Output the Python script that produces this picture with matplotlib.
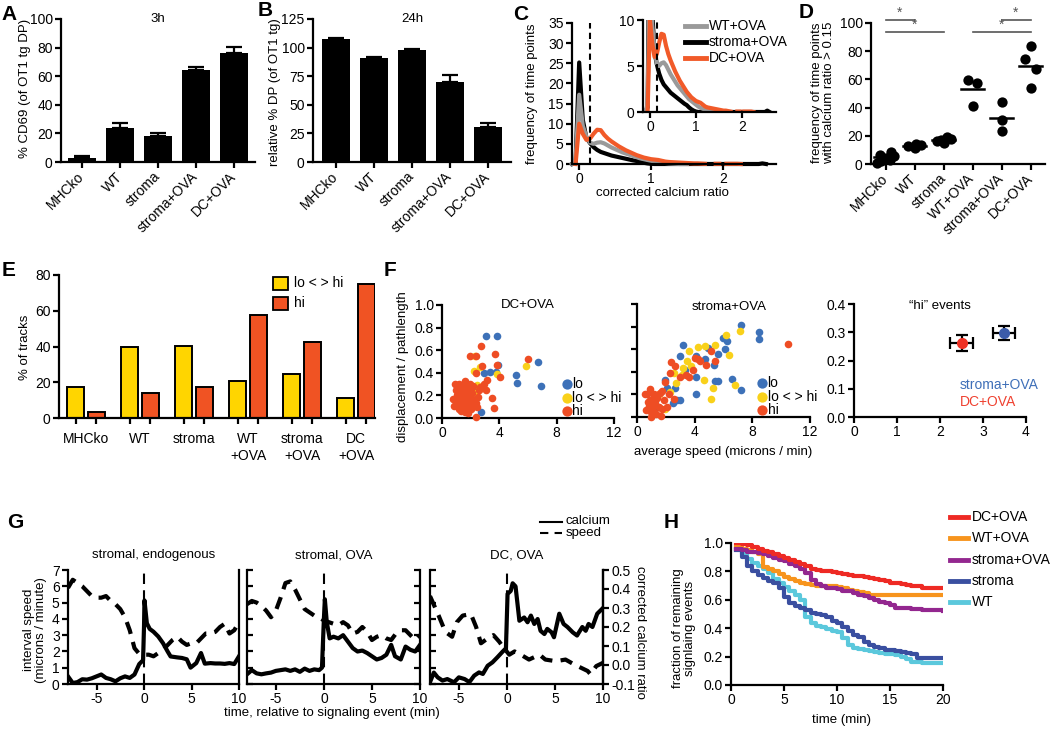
import numpy as np
import matplotlib
matplotlib.use('Agg')
import matplotlib.pyplot as plt
from matplotlib.patches import Rectangle
from matplotlib.lines import Line2D

plt.rcParams['font.family'] = ['Liberation Sans', 'DejaVu Sans']
plt.rcParams['font.size'] = 9.5
plt.rcParams['axes.unicode_minus'] = False
plt.rcParams['axes.linewidth'] = 1.6
for _a in ('xtick', 'ytick'):
    plt.rcParams[_a + '.major.width'] = 1.6
    plt.rcParams[_a + '.major.size'] = 4
    plt.rcParams[_a + '.labelsize'] = 10
    plt.rcParams[_a + '.major.pad'] = 2

# ======================= DATA =======================
# A
a_cats = ['MHCko', 'WT', 'stroma', 'stroma+OVA', 'DC+OVA']
a_vals = [3, 24, 18, 64, 76]
a_err = [1, 3.5, 2.5, 2.3, 4.3]
# B
b_cats = ['MHCko', 'WT', 'stroma', 'stroma+OVA', 'DC+OVA']
b_vals = [107.5, 90.5, 98, 70, 30.5]
b_err = [1, 1, 0.8, 6, 4]
# C  histogram of corrected calcium ratio
c_x = np.round(np.arange(-0.10, 2.601, 0.05), 2)
nan = np.nan
c_stroma_ova = [0.0, 0.5, 25.2, 11.0, 6.5,
                5.2, 4.2, 3.5, 3.0, 2.7,
                2.4, 2.1, 1.9, 1.7, 1.5,
                1.3, 1.1, 0.9, 0.75, 0.5,
                0.3, 0.15, 0.05, 0.0, 0.0,
                0, 0, 0, 0, 0,
                0, 0, 0, 0, 0,
                0, 0, 0, 0, 0,
                0, 0, 0, 0, 0,
                0, 0, 0, 0, 0,
                0, 0, 0, 0.15, 0]
c_wt_ova = [0.0, 0.8, 17.2, 9.5, 6.8,
            5.3, 5.0, 5.3, 5.4, 5.1,
            4.6, 4.1, 3.7, 3.3, 2.9,
            2.6, 2.3, 2.0, 1.7, 1.4,
            1.2, 1.0, 0.8, 0.6, 0.45,
            0.35, 0.25, 0.15, 0.1, 0.05,
            0.0, 0.0, 0.0, nan, nan,
            nan, nan, nan, nan, nan,
            nan, nan, nan, nan, nan,
            nan, nan, nan, nan, nan,
            nan, nan, nan, nan, nan]
c_dc_ova = [nan, 0.0, 10.0, 7.5, 6.0,
            6.3, 7.5, 8.5, 8.4, 7.2,
            6.3, 5.6, 5.0, 4.4, 3.9,
            3.4, 3.0, 2.6, 2.2, 1.9,
            1.6, 1.4, 1.2, 1.1, 1.0,
            0.8, 0.6, 0.5, 0.45, 0.4,
            0.35, 0.3, 0.25, 0.2, 0.15,
            0.15, 0.1, 0.05, nan, nan,
            0.05, 0.05, nan, 0.05, 0.05,
            0.05, 0.05, 0.0, nan, nan,
            nan, nan, nan, nan, nan]
# D
d_cats = ['MHCko', 'WT', 'stroma', 'WT+OVA', 'stroma+OVA', 'DC+OVA']
d_points = [[1, 2, 3, 4.5, 5.5, 6.5, 8.5],
            [11.5, 12.5, 13.5, 14.5],
            [15, 16.5, 18, 19.5, 17],
            [59.8, 57.4, 40.9],
            [43.7, 31.5, 23.2],
            [83.5, 74.5, 67.4, 53.9]]
d_means = [4.7, 12.5, 17.3, 53.2, 32.6, 69.7]
# E
e_groups = ['MHCko', 'WT', 'stroma', 'WT\n+OVA', 'stroma\n+OVA', 'DC\n+OVA']
e_lohi = [17.5, 39.8, 40.3, 20.7, 24.6, 11.2]
e_hi = [3.4, 14.0, 17.4, 57.7, 42.6, 75.0]
# F1 (DC+OVA)
f1_lo_x = [3.04, 3.83, 3.9, 2.92, 3.36, 3.74, 5.19, 5.26, 6.7, 6.94, 2.73, 2.34, 2.4, 2.1]
f1_lo_y = [0.725, 0.73, 0.47, 0.40, 0.41, 0.41, 0.38, 0.31, 0.50, 0.28, 0.05, 0.19, 0.24, 0.22]
f1_mid_x = [5.84, 2.27, 2.2, 2.62, 3.83, 2.45, 2.3]
f1_mid_y = [0.46, 0.55, 0.42, 0.45, 0.39, 0.29, 0.22]
f1_hi_x = [2.73, 3.67, 1.92, 2.38, 3.83, 2.8, 5.98, 4.04, 3.13, 2.34, 3.04, 2.62, 3.5, 3.6, 2.34, 2.9,
           0.86, 0.93, 1.17, 1.57, 1.68, 1.92, 2.03, 1.03, 1.45, 1.8, 2.03, 1.21, 2.2, 2.5, 2.38, 2.57,
           1.02, 1.12, 1.22, 1.33, 1.41, 1.52, 1.63, 1.71, 1.83, 1.88, 2.01, 2.12,
           0.97, 1.16, 1.37, 1.55, 1.76, 1.96, 2.16, 1.06, 1.27, 1.47, 1.64, 1.86,
           2.07, 1.1, 1.31, 1.52, 1.72, 1.91, 1.19, 1.42, 1.61, 1.78, 0.8, 2.45]
f1_hi_y = [0.64, 0.57, 0.55, 0.55, 0.47, 0.46, 0.52, 0.36, 0.34, 0.40, 0.25, 0.27, 0.18, 0.09, 0.01, 0.30,
           0.11, 0.30, 0.30, 0.33, 0.29, 0.30, 0.26, 0.17, 0.07, 0.04, 0.08, 0.11, 0.16, 0.19, 0.13, 0.25,
           0.20, 0.14, 0.24, 0.18, 0.27, 0.12, 0.22, 0.16, 0.21, 0.10, 0.18, 0.22,
           0.25, 0.08, 0.13, 0.25, 0.09, 0.15, 0.28, 0.28, 0.19, 0.21, 0.13, 0.27,
           0.12, 0.23, 0.06, 0.17, 0.24, 0.20, 0.15, 0.10, 0.05, 0.14, 0.17, 0.10]
# F2 (stroma+OVA)
f2_lo_x = [7.2, 8.43, 8.47, 3.16, 5.94, 6.24, 6.12, 4.9, 2.96, 4.06, 4.73, 5.34, 5.64, 4.06, 5.38,
           5.59, 6.56, 7.2, 4.1, 1.96, 2.77, 3.0, 2.66, 2.08, 1.15, 3.3, 2.5]
f2_lo_y = [0.81, 0.75, 0.69, 0.64, 0.70, 0.67, 0.60, 0.61, 0.54, 0.54, 0.51, 0.46, 0.56, 0.35, 0.32,
           0.32, 0.34, 0.24, 0.20, 0.33, 0.15, 0.15, 0.26, 0.26, 0.06, 0.42, 0.12]
f2_mid_x = [7.16, 6.14, 4.2, 4.73, 5.38, 6.37, 3.58, 3.46, 3.76, 4.62, 5.3, 6.77, 5.13, 2.54, 3.12,
            2.31, 1.92, 1.5, 3.16, 2.7, 1.2]
f2_mid_y = [0.76, 0.73, 0.62, 0.63, 0.64, 0.55, 0.58, 0.50, 0.45, 0.33, 0.26, 0.28, 0.16, 0.39, 0.37,
            0.22, 0.07, 0.20, 0.43, 0.30, 0.15]
f2_hi_x = [10.46, 5.13, 4.23, 4.39, 3.99, 4.76, 5.43, 2.36, 2.66, 3.9, 2.31, 3.0, 3.39, 3.64, 1.92,
           1.73, 2.25, 2.54, 0.88, 0.69, 1.15,
           0.58, 0.81, 1.04, 1.27, 1.5, 1.66, 1.15, 0.92, 1.85, 1.39, 0.65, 2.08, 1.62, 0.75, 1.2,
           1.0, 1.35, 0.9, 1.75, 1.1]
f2_hi_y = [0.65, 0.58, 0.51, 0.50, 0.52, 0.46, 0.50, 0.49, 0.45, 0.42, 0.39, 0.35, 0.37, 0.35, 0.31,
           0.23, 0.20, 0.16, 0.25, 0.20, 0.18,
           0.20, 0.10, 0.08, 0.12, 0.09, 0.01, 0.04, 0.15, 0.15, 0.17, 0.06, 0.09, 0.21, 0.13, 0.20,
           0.00, 0.03, 0.05, 0.07, 0.11]
# F3 ("hi" events)
f3_names = ['stroma+OVA', 'DC+OVA']
f3_speed = [3.49, 2.5]
f3_speed_err = [0.26, 0.27]
f3_ratio = [0.297, 0.263]
f3_ratio_err = [0.024, 0.028]
# G
g_t_speed = np.arange(-8, 10.01, 0.5)
g1_speed = [5.9, 6.4, 6.2, 6.0, 5.7, 5.4, 5.3, 5.3, 5.4, 5.1, 4.9, 4.6, 4.1, 3.3, 2.2,
            1.85, 1.8, 1.8, 1.7, 1.9, 2.1, 2.4, 2.7, 2.9, 2.6, 2.4, 2.5, 2.5, 2.8, 3.1,
            3.1, 3.2, 3.5, 3.7, 3.1, 3.3, 3.8]
g1_t_ca = [-8, -7.5, -7, -6.5, -6, -5.5, -5, -4.5, -4, -3.5, -3, -2.5, -2, -1.5, -1, -0.5,
           -0.1, 0, 0.05, 0.3, 0.6, 1.0, 1.5, 2.0, 2.5, 2.8, 3.5, 4, 4.5, 4.9, 5.5, 6,
           6.4, 7, 7.5, 8, 8.5, 9, 9.5, 10]
g1_ca = [-0.06, -0.095, -0.09, -0.075, -0.077, -0.07, -0.06, -0.05, -0.068, -0.075, -0.086, -0.07,
         -0.06, -0.068, -0.05, 0.005, 0.025, 0.2, 0.34, 0.22, 0.19, 0.175, 0.15, 0.115, 0.07, 0.045,
         0.04, 0.037, 0.03, -0.014, 0.01, 0.063, 0.007, 0.01, 0.008, 0.008, 0.006, 0.01, 0.005, 0.046]
g2_speed = [4.9, 5.1, 5.0, 4.8, 4.5, 4.1, 4.5, 5.3, 6.2, 6.3, 5.8, 5.2, 4.6, 4.4, 4.2,
            4.1, 3.9, 3.8, 3.7, 3.6, 3.8, 3.6, 3.1, 3.2, 3.5, 3.2, 2.7, 2.9, 3.0, 2.8,
            2.7, 3.1, 3.3, 3.3, 3.0, 2.7, 3.0]
g2_t_ca = [-8, -7.5, -7, -6.5, -6, -5.5, -5, -4.5, -4, -3.5, -3, -2.5, -2, -1.5, -1, -0.5,
           -0.2, 0, 0.1, 0.3, 0.6, 1, 1.5, 2, 2.5, 3, 3.5, 4, 4.5, 5, 5.5, 6, 6.5, 7,
           7.4, 8, 8.5, 9, 9.5, 10]
g2_ca = [-0.049, -0.027, -0.044, -0.049, -0.044, -0.04, -0.031, -0.027, -0.023, -0.031, -0.023,
         -0.036, -0.019, -0.031, -0.023, -0.027, -0.014, 0.243, 0.346, 0.226, 0.14, 0.149, 0.14,
         0.157, 0.123, 0.089, 0.071, 0.076, 0.063, 0.046, 0.029, 0.037, 0.054, 0.106, 0.046,
         0.029, 0.097, 0.08, 0.071, 0.106]
g3_t_speed = [-8, -7.7, -7.1, -6.4, -5.7, -5.2, -4.6, -3.75, -3.2, -2.7, -2.0, -1.4, -0.8, -0.3,
              0.25, 0.8, 1.45, 2.3, 3.4, 4.0, 5.1, 6.1, 7.0, 7.7, 8.4, 8.7, 9.3, 10]
g3_speed = [5.4, 5.0, 4.2, 3.2, 2.9, 3.8, 4.2, 4.3, 3.5, 2.5, 2.8, 3.0, 2.6, 2.2,
            1.8, 2.0, 1.8, 1.5, 1.8, 1.5, 1.4, 1.5, 1.2, 1.0, 0.8, 0.6, 1.1, 1.3]
g3_t_ca = [-8, -7.6, -7.2, -6.7, -6.2, -5.5, -5.0, -4.4, -3.9, -3.4, -2.9, -2.5, -2.0, -1.5, -1.0,
           -0.45, -0.1, 0.07, 0.4, 0.6, 0.9, 1.3, 1.8, 2.15, 2.5, 2.85, 3.2, 3.5, 3.9, 4.2,
           4.65, 4.9, 5.45, 5.9, 6.3, 6.85, 7.3, 7.5, 7.85, 8.2, 8.5, 8.9, 9.4, 9.9]
g3_ca = [-0.09, -0.04, -0.065, -0.082, -0.074, -0.091, -0.065, -0.074, -0.09, -0.056, -0.039,
         -0.047, -0.004, 0.014, 0.04, 0.07, 0.088, 0.374, 0.39, 0.43, 0.414, 0.233, 0.25, 0.225,
         0.26, 0.216, 0.242, 0.18, 0.163, 0.19, 0.172, 0.146, 0.27, 0.216, 0.2, 0.172, 0.155,
         0.172, 0.2, 0.18, 0.216, 0.2, 0.27, 0.295]
g_titles = ['stromal, endogenous', 'stromal, OVA', 'DC, OVA']
# H  survival of signaling events
h_t = np.arange(0.5, 20.01, 0.5)
h_series = ['DC+OVA', 'WT+OVA', 'stroma+OVA', 'stroma', 'WT']
h_dc_ova = [1.0, 0.99, 0.985, 0.975, 0.955, 0.945, 0.935, 0.925, 0.91, 0.895, 0.88, 0.865, 0.85, 0.84,
            0.82, 0.81, 0.805, 0.8, 0.795, 0.79, 0.785, 0.775, 0.77, 0.765, 0.76, 0.755, 0.745, 0.74,
            0.73, 0.72, 0.715, 0.71, 0.705, 0.7, 0.695, 0.685, 0.685, 0.685, 0.685, 0.685]
h_wt_ova = [0.97, 0.96, 0.95, 0.94, 0.92, 0.83, 0.815, 0.8, 0.78, 0.76, 0.745, 0.73, 0.72, 0.71,
            0.705, 0.7, 0.7, 0.7, 0.695, 0.69, 0.68, 0.67, 0.665, 0.655, 0.645, 0.635, 0.635, 0.635,
            0.635, 0.635, 0.635, 0.635, 0.635, 0.635, 0.635, 0.635, 0.635, 0.635, 0.635, 0.635]
h_stroma_ova = [0.96, 0.95, 0.94, 0.935, 0.93, 0.92, 0.91, 0.895, 0.88, 0.87, 0.855, 0.84, 0.815,
                0.79, 0.74, 0.71, 0.695, 0.685, 0.68, 0.675, 0.665, 0.66, 0.65, 0.635, 0.625, 0.615,
                0.6, 0.585, 0.575, 0.56, 0.545, 0.54, 0.54, 0.535, 0.535, 0.53, 0.53, 0.525, 0.525, 0.52]
h_stroma = [0.95, 0.9, 0.84, 0.8, 0.775, 0.755, 0.735, 0.72, 0.68, 0.62, 0.575, 0.555, 0.54, 0.525,
            0.51, 0.5, 0.495, 0.48, 0.45, 0.435, 0.41, 0.38, 0.355, 0.335, 0.305, 0.285, 0.27, 0.26,
            0.25, 0.245, 0.24, 0.235, 0.225, 0.22, 0.19, 0.19, 0.19, 0.19, 0.19, 0.19]
h_wt = [0.955, 0.92, 0.885, 0.86, 0.84, 0.815, 0.79, 0.745, 0.715, 0.69, 0.665, 0.635, 0.6, 0.48,
        0.44, 0.415, 0.405, 0.395, 0.38, 0.37, 0.33, 0.28, 0.26, 0.255, 0.245, 0.24, 0.235, 0.225,
        0.22, 0.215, 0.21, 0.2, 0.185, 0.165, 0.16, 0.158, 0.158, 0.158, 0.158, 0.158]

# ======================= FIGURE =======================
W, H = 1050, 730
fig = plt.figure(figsize=(10.5, 7.3), dpi=100)


def add_ax(l, t, r, b):
    ax = fig.add_axes([l / W, 1 - b / H, (r - l) / W, (b - t) / H])
    ax.spines['top'].set_visible(False)
    ax.spines['right'].set_visible(False)
    ax.patch.set_alpha(0)
    return ax


def ft(x, y, s, **kw):
    kw.setdefault('ha', 'center')
    kw.setdefault('va', 'center')
    return fig.text(x / W, 1 - y / H, s, **kw)


def fline(x0, x1, y, **kw):
    fig.add_artist(Line2D([x0 / W, x1 / W], [1 - y / H, 1 - y / H], **kw))


LBL = 9.5
for s, x, y in [('A', 9, 14), ('B', 265, 11), ('C', 521, 14), ('D', 806, 12),
                ('E', 9, 271), ('F', 390, 271), ('G', 15, 523), ('H', 671, 522)]:
    ft(x, y, s, fontsize=15, fontweight='bold')

# ---------- A ----------
axA = add_ax(61, 19, 255, 162)
xa = np.arange(len(a_cats))
axA.bar(xa, a_vals, width=0.72, color='black',
        yerr=[np.zeros(len(a_err)), a_err],
        error_kw=dict(ecolor='black', elinewidth=1.6, capsize=6, capthick=1.6))
axA.set_xlim(-0.55, 4.55)
axA.set_ylim(0, 100)
axA.set_yticks(range(0, 101, 20))
axA.set_xticks(xa)
axA.set_xticklabels(a_cats, rotation=45, ha='right', va='center', rotation_mode='anchor')
axA.tick_params(axis='x', pad=5)
axA.text(0.5, 1.0, '3h', transform=axA.transAxes, ha='center', va='center', fontsize=LBL)
ft(25, 88, '% CD69 (of OT1 tg DP)', rotation=90, fontsize=LBL)

# ---------- B ----------
axB = add_ax(313, 19, 511, 162)
xb = np.arange(len(b_cats))
axB.bar(xb, b_vals, width=0.72, color='black',
        yerr=[np.zeros(len(b_err)), b_err],
        error_kw=dict(ecolor='black', elinewidth=1.6, capsize=6, capthick=1.6))
axB.set_xlim(-0.6, 4.6)
axB.set_ylim(0, 125)
axB.set_yticks(range(0, 126, 25))
axB.set_xticks(xb)
axB.set_xticklabels(b_cats, rotation=45, ha='right', va='center', rotation_mode='anchor')
axB.tick_params(axis='x', pad=5)
axB.text(0.5, 1.0, '24h', transform=axB.transAxes, ha='center', va='center', fontsize=LBL)
ft(275, 92, 'relative % DP (of OT1 tg)', rotation=90, fontsize=LBL)

# ---------- C ----------
C_GRAY, C_ORANGE = '#9a9a9a', '#f15a29'
axC = add_ax(572, 23, 776, 164)
for vals, col in [(c_stroma_ova, 'black'), (c_wt_ova, C_GRAY), (c_dc_ova, C_ORANGE)]:
    axC.plot(c_x, vals, color=col, lw=3, solid_joinstyle='round', clip_on=False)
axC.axvline(0.15, color='black', lw=1.5, ls=(0, (3, 2)))
axC.set_xlim(-0.1, 2.74)
axC.set_ylim(0, 35)
axC.set_yticks(range(0, 36, 5))
axC.set_xticks([0, 1, 2])
ft(532, 94, 'frequency of time points', rotation=90, fontsize=LBL)
ft(662, 193, 'corrected calcium ratio', fontsize=LBL)

axCi = add_ax(643, 20, 776, 112)
for vals, col in [(c_stroma_ova, 'black'), (c_wt_ova, C_GRAY), (c_dc_ova, C_ORANGE)]:
    axCi.plot(c_x, vals, color=col, lw=3, solid_joinstyle='round')
axCi.axvline(0.15, color='black', lw=1.5, ls=(0, (3, 2)))
axCi.set_xlim(-0.15, 2.74)
axCi.set_ylim(0, 10)
axCi.set_yticks([0, 5, 10])
axCi.set_xticks([0, 1, 2])
for lab, col, y in [('WT+OVA', C_GRAY, 26), ('stroma+OVA', 'black', 42), ('DC+OVA', C_ORANGE, 58)]:
    fline(685, 706, y, color=col, lw=3.5)
    ft(709, y, lab, ha='left', fontsize=10)

# ---------- D ----------
d_off = [[-0.3, -0.15, 0.15, 0.0, 0.3, -0.2, 0.2],
         [0.0, -0.22, 0.22, 0.05],
         [0.0, -0.22, 0.25, 0.12, -0.1],
         [-0.17, 0.17, 0.0],
         [0.0, 0.0, 0.0],
         [0.0, -0.2, 0.2, 0.0]]
axD = add_ax(871, 23, 1045, 164)
for i, pts in enumerate(d_points):
    axD.scatter(np.array(d_off[i]) + i, pts, s=55, color='black', lw=0, zorder=3, clip_on=False)
    axD.plot([i - 0.4, i + 0.4], [d_means[i]] * 2, color='black', lw=1.8, zorder=4)
axD.set_xlim(-0.5, 5.5)
axD.set_ylim(0, 100)
axD.set_yticks(range(0, 101, 20))
axD.set_xticks(range(6))
axD.set_xticklabels(d_cats, rotation=45, ha='right', va='center', rotation_mode='anchor')
axD.tick_params(axis='x', pad=5)
SIG = '#555555'
for (i0, i1, yv) in [(0, 1, 102), (0, 2, 93.5), (4, 5, 102), (3, 5, 93.5)]:
    axD.plot([i0, i1], [yv, yv], color=SIG, lw=1.2, clip_on=False)
    axD.text((i0 + i1) / 2, yv + 0.5, '*', color=SIG, ha='center', va='bottom', fontsize=10)
ft(823, 93, 'frequency of time points\nwith calcium ratio > 0.15', rotation=90, fontsize=LBL,
   linespacing=1.1)

# ---------- E ----------
E_YEL, E_RED = '#ffd500', '#f05323'
axE = add_ax(59, 275, 375, 418)
ge = np.arange(len(e_groups))
axE.bar(ge - 0.19, e_lohi, 0.31, color=E_YEL, edgecolor='black', lw=1.4)
axE.bar(ge + 0.19, e_hi, 0.31, color=E_RED, edgecolor='black', lw=1.4)
axE.set_xlim(-0.5, 5.35)
axE.set_ylim(0, 80)
axE.set_yticks(range(0, 81, 20))
axE.set_xticks(np.sort(np.concatenate([ge - 0.19, ge + 0.19])))
axE.set_xticklabels([])
axE.set_xticks(ge, minor=True)
axE.set_xticklabels(e_groups, minor=True, fontsize=10, linespacing=1.25, va='top')
axE.tick_params(axis='x', which='minor', length=0, pad=10)
ft(25, 347, '% of tracks', rotation=90, fontsize=LBL)
for lab, col, y in [('lo < > hi', E_YEL, 283), ('hi', E_RED, 303)]:
    fig.add_artist(Rectangle((273 / W, 1 - (y + 6.5) / H), 15 / W, 13 / H, facecolor=col,
                             edgecolor='black', lw=1.3, transform=fig.transFigure))
    ft(294, y, lab, ha='left', fontsize=10)

# ---------- F ----------
F_BLUE, F_YEL, F_RED = '#3d71b8', '#f9d11a', '#ee4d24'


def scatter_panel(ax, lo, mid, hi):
    ax.scatter(*lo, s=30, color=F_BLUE, lw=0, zorder=3, clip_on=False)
    ax.scatter(*mid, s=30, color=F_YEL, lw=0, zorder=3, clip_on=False)
    ax.scatter(*hi, s=30, color=F_RED, lw=0, zorder=3, clip_on=False)
    ax.set_xlim(0, 12)
    ax.set_ylim(0, 1.0)
    ax.set_xticks([0, 4, 8, 12])
    ax.set_yticks([0, 0.2, 0.4, 0.6, 0.8, 1.0])


axF1 = add_ax(442, 305, 614, 418)
scatter_panel(axF1, (f1_lo_x, f1_lo_y), (f1_mid_x, f1_mid_y), (f1_hi_x, f1_hi_y))
axF1.set_yticklabels(['0.0', '0.2', '0.4', '0.6', '0.8', '1.0'])
axF1.text(0.5, 1.0, 'DC+OVA', transform=axF1.transAxes, ha='center', va='center', fontsize=LBL)
ft(403, 367, 'displacement / pathlength', rotation=90, fontsize=LBL)

axF2 = add_ax(637, 304, 810, 417)
scatter_panel(axF2, (f2_lo_x, f2_lo_y), (f2_mid_x, f2_mid_y), (f2_hi_x, f2_hi_y))
axF2.set_yticklabels([])
axF2.text(0.53, 0.97, 'stroma+OVA', transform=axF2.transAxes, ha='center', va='center', fontsize=LBL)
ft(723, 452, 'average speed (microns / min)', fontsize=LBL)

for ax in (axF1, axF2):
    for lab, col, yf in [('lo', F_BLUE, 0.30), ('lo < > hi', F_YEL, 0.18), ('hi', F_RED, 0.06)]:
        ax.scatter([0.725], [yf], s=55, color=col, lw=0, transform=ax.transAxes, clip_on=False, zorder=5)
        ax.text(0.755, yf, lab, transform=ax.transAxes, ha='left', va='center', fontsize=10)

axF3 = add_ax(854, 304, 1026, 417)
F3_COLS = ['#3b5ba9', '#ee3124']
F3_TXT = ['#3e6fb8', '#ef4130']
for i in range(2):
    axF3.errorbar([f3_speed[i]], [f3_ratio[i]], xerr=[f3_speed_err[i]], yerr=[f3_ratio_err[i]],
                  fmt='o', color=F3_COLS[i], ms=7, mec=F3_COLS[i], ecolor='black', elinewidth=1.6,
                  capsize=4, capthick=1.6, zorder=3)
axF3.set_xlim(0, 4)
axF3.set_ylim(0, 0.4)
axF3.set_xticks([0, 1, 2, 3, 4])
axF3.set_yticks([0, 0.1, 0.2, 0.3, 0.4])
axF3.set_yticklabels(['0.0', '0.1', '0.2', '0.3', '0.4'])
axF3.text(0.5, 0.98, '\u201chi\u201d events', transform=axF3.transAxes, ha='center', va='center',
          fontsize=LBL)
ft(960, 385, f3_names[0], ha='left', color=F3_TXT[0], fontsize=10)
ft(960, 402, f3_names[1], ha='left', color=F3_TXT[1], fontsize=10)

# ---------- G ----------
g_boxes = [(68, 239), (247, 420), (430, 603)]
g_speed_t = [g_t_speed, g_t_speed, g3_t_speed]
g_speed_v = [g1_speed, g2_speed, g3_speed]
g_ca_t = [g1_t_ca, g2_t_ca, g3_t_ca]
g_ca_v = [g1_ca, g2_ca, g3_ca]
for k, (l, r) in enumerate(g_boxes):
    ax = add_ax(l, 570, r, 684)
    ax.spines['right'].set_visible(True)
    tw = ax.twinx()
    for sp in tw.spines.values():
        sp.set_visible(False)
    ax.plot(g_speed_t[k], g_speed_v[k], color='black', lw=3, ls=(0, (3, 2)), dash_capstyle='butt')
    tw.plot(g_ca_t[k], g_ca_v[k], color='black', lw=3, solid_joinstyle='round')
    ax.axvline(0, color='black', lw=1.5, ls=(0, (5, 3)))
    ax.set_xlim(-8, 10)
    ax.set_ylim(0, 7)
    tw.set_ylim(-0.1, 0.5)
    ax.set_xticks([-5, 0, 5, 10])
    ax.set_yticks(range(0, 8))
    if k == 0:
        ax.tick_params(axis='y', left=True, right=False)
        tw.set_yticks([])
    elif k == 1:
        ax.tick_params(axis='y', left=True, right=True, direction='in', labelleft=False)
        tw.set_yticks([])
    else:
        ax.tick_params(axis='y', left=True, right=False, direction='in', labelleft=False)
        tw.spines['right'].set_visible(True)
        tw.set_yticks([-0.1, 0, 0.1, 0.2, 0.3, 0.4, 0.5])
        tw.set_yticklabels(['-0.1', '0.0', '0.1', '0.2', '0.3', '0.4', '0.5'])
    ft((l + r) / 2, 555, g_titles[k], fontsize=LBL)
ft(35, 630, 'interval speed\n(microns / minute)', rotation=90, fontsize=LBL, linespacing=1.05)
ft(640, 632, 'corrected calcium ratio', rotation=270, fontsize=LBL)
ft(332, 713, 'time, relative to signaling event (min)', fontsize=LBL)
fline(540, 562, 522, color='black', lw=1.5)
ft(566, 521, 'calcium', ha='left', fontsize=LBL)
fline(540, 562, 533, color='black', lw=1.5, ls=(0, (4, 3)))
ft(566, 533, 'speed', ha='left', fontsize=LBL)

# ---------- H ----------
H_COLS = {'DC+OVA': '#ee2a24', 'WT+OVA': '#f7941d', 'stroma+OVA': '#93278f',
          'stroma': '#3a4fa0', 'WT': '#5bc8dc'}
h_vals = {'DC+OVA': h_dc_ova, 'WT+OVA': h_wt_ova, 'stroma+OVA': h_stroma_ova,
          'stroma': h_stroma, 'WT': h_wt}
axH = add_ax(731, 543, 943, 685)
for name in ['WT', 'stroma', 'WT+OVA', 'stroma+OVA', 'DC+OVA']:
    axH.step(h_t, h_vals[name], where='post', color=H_COLS[name], lw=3)
axH.set_xlim(0, 20)
axH.set_ylim(0, 1.0)
axH.set_xticks([0, 5, 10, 15, 20])
axH.set_yticks([0, 0.2, 0.4, 0.6, 0.8, 1.0])
axH.set_yticklabels(['0.0', '0.2', '0.4', '0.6', '0.8', '1.0'])
ft(684, 628, 'fraction of remaining\nsignlaing events', rotation=90, fontsize=LBL, linespacing=1.05)
ft(842, 720, 'time (min)', fontsize=LBL)
for i, name in enumerate(h_series):
    y = 517 + i * 21.3
    fline(950, 968, y, color=H_COLS[name], lw=3.5)
    ft(972, y, name, ha='left', fontsize=10)

fig.savefig('out.png', dpi=100)
